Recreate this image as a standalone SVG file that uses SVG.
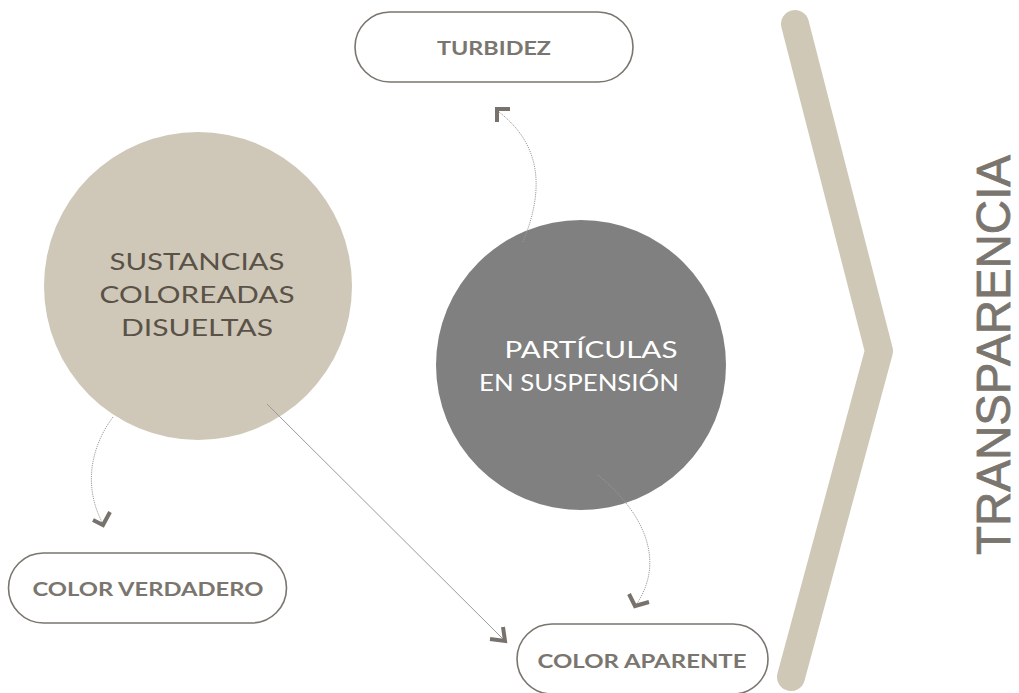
<svg xmlns="http://www.w3.org/2000/svg" width="1019" height="693" viewBox="0 0 1019 693">
<style>
.pill{fill:#ffffff;stroke:#7a756e;stroke-width:1.6}
.pilltxt{font-family:"Lato","Liberation Sans",sans-serif;font-size:19px;font-weight:700;fill:#7a756e;text-anchor:middle}
.ctxt{font-family:"Lato","Liberation Sans",sans-serif;font-size:24px;font-weight:400;text-anchor:middle}
.dot{fill:none;stroke:#9a9a9a;stroke-width:1;stroke-dasharray:1.2 1}
.solid{fill:none;stroke:#9a9a9a;stroke-width:1}
.head{fill:none;stroke:#77726b;stroke-width:4;stroke-linecap:butt;stroke-linejoin:miter}
</style>
<rect width="1019" height="693" fill="#ffffff"/>
<g id="chevron">
<polyline points="795,24 879,351 791,677" fill="none" stroke="#cfc8b7" stroke-width="28" stroke-linecap="round" stroke-linejoin="round"/>
</g>
<g id="node-sustancias">
<circle cx="198" cy="286" r="154" fill="#cfc8b8"/>
<text class="ctxt" fill="#5a5247" x="197" y="270" textLength="175" lengthAdjust="spacingAndGlyphs">SUSTANCIAS</text>
<text class="ctxt" fill="#5a5247" x="197" y="303" textLength="195" lengthAdjust="spacingAndGlyphs">COLOREADAS</text>
<text class="ctxt" fill="#5a5247" x="197" y="336" textLength="152" lengthAdjust="spacingAndGlyphs">DISUELTAS</text>
</g>
<g id="node-particulas">
<circle cx="581" cy="365" r="145" fill="#808080"/>
<text class="ctxt" fill="#ffffff" x="591" y="358" textLength="173" lengthAdjust="spacingAndGlyphs">PARTÍCULAS</text>
<text class="ctxt" fill="#ffffff" x="579" y="391" textLength="200" lengthAdjust="spacingAndGlyphs">EN SUSPENSIÓN</text>
</g>
<g id="node-turbidez">
<rect class="pill" x="355" y="12" width="278" height="70" rx="35"/>
<text class="pilltxt" x="494" y="55" textLength="114" lengthAdjust="spacingAndGlyphs">TURBIDEZ</text>
</g>
<g id="node-color-verdadero">
<rect class="pill" x="8.5" y="553" width="278" height="70" rx="35"/>
<text class="pilltxt" x="148" y="596" textLength="231" lengthAdjust="spacingAndGlyphs">COLOR VERDADERO</text>
</g>
<g id="node-color-aparente">
<rect class="pill" x="517" y="624" width="251" height="70" rx="35"/>
<text class="pilltxt" x="642" y="668" textLength="209" lengthAdjust="spacingAndGlyphs">COLOR APARENTE</text>
</g>
<g id="node-transparencia">
<text x="0" y="0" transform="translate(1010,355) rotate(-90)" font-family="'Liberation Sans',sans-serif" font-size="48" fill="#7a756e" stroke="#7a756e" stroke-width="0.8" text-anchor="middle" textLength="400" lengthAdjust="spacingAndGlyphs">TRANSPARENCIA</text>
</g>
<g id="connectors">
<path class="dot" d="M113,417 C92,445 82,485 103,524"/>
<polyline class="head" points="110,512 103,525 93,520"/>
<line class="solid" x1="267" y1="404" x2="504" y2="640"/>
<polyline class="head" points="503,627 505,641 490,639"/>
<path class="dot" d="M598,475 C635,505 670,555 636,605"/>
<polyline class="head" points="629,594 635,606 649,602"/>
<path class="dot" d="M523,242 C540,200 548,150 499,112"/>
<polyline class="head" points="497,122 497,109 510,109"/>
</g>
</svg>
